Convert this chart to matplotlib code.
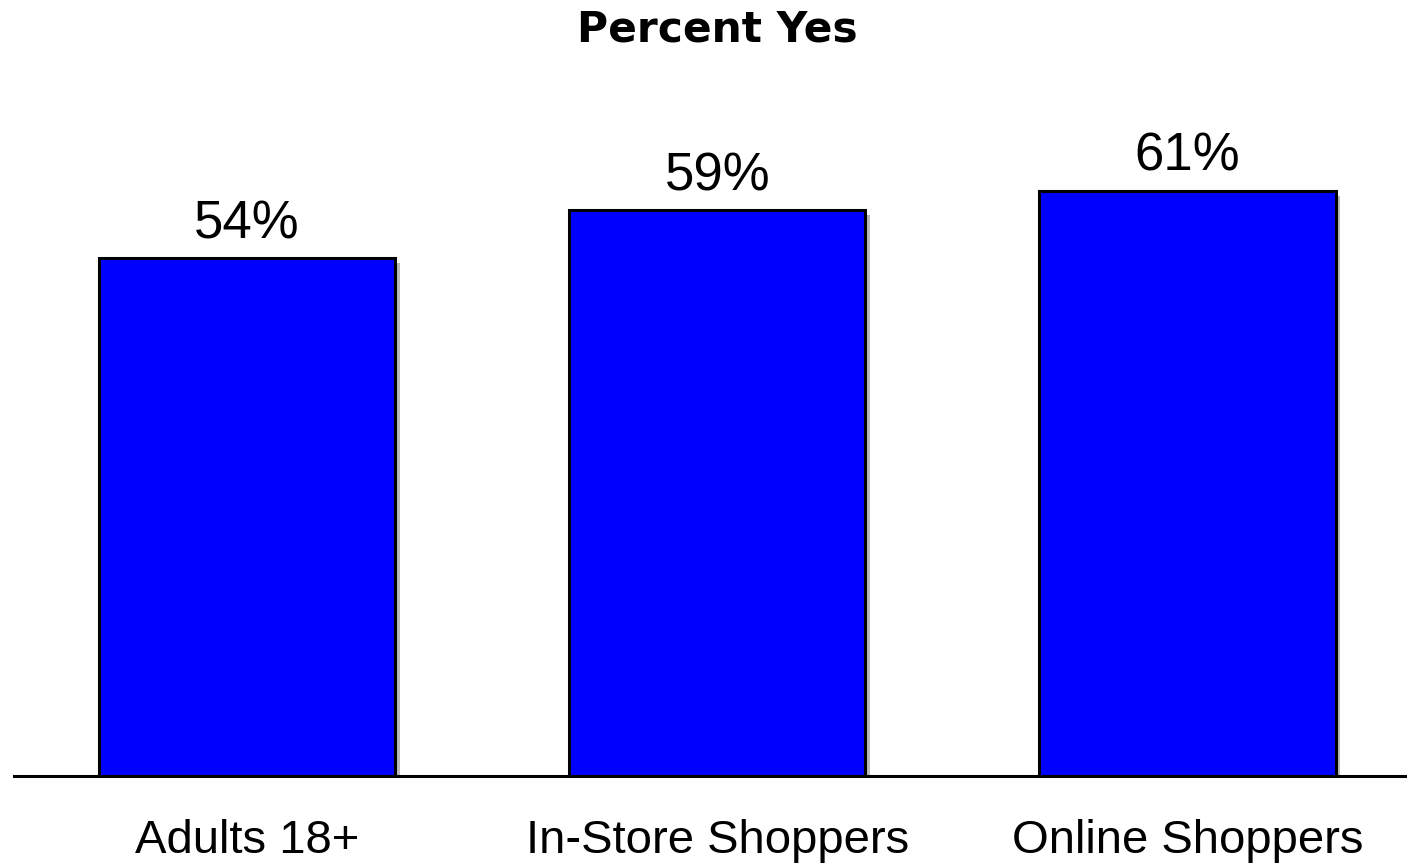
import matplotlib
matplotlib.use('Agg')
import matplotlib.pyplot as plt
import matplotlib.patheffects as pe
import matplotlib.transforms as mtransforms

# data
categories = ['Adults 18+', 'In-Store Shoppers', 'Online Shoppers']
values = [54, 59, 61]
title = 'Percent Yes'

fig = plt.figure(figsize=(14.07, 8.66), dpi=100)
fig.set_facecolor('white')
ax = fig.add_axes([14/1407, 90/866, 1 - 14/1407, 776/866])

xs = list(range(len(categories)))
bars = ax.bar(xs, values, width=0.63, color='#0000ff', edgecolor='black',
              linewidth=2.2, zorder=3)
for b in bars:
    b.set_path_effects([pe.SimplePatchShadow(offset=(3.5, -3.5), shadow_rgbFace='#777777', alpha=0.5),
                        pe.Normal()])

ax.set_xlim(-(247 - 14)/470, 2 + (1407 - 1187.5)/470)
ax.set_ylim(0, 776/9.59)

for spine in ['top', 'right', 'left']:
    ax.spines[spine].set_visible(False)
ax.spines['bottom'].set_linewidth(2.2)
ax.spines['bottom'].set_zorder(4)
ax.set_xticks([])
ax.set_yticks([])

# value labels
for x, v in zip(xs, values):
    ax.annotate('%d%%' % v, (x, v), xytext=(0, 14.5), textcoords='offset points',
                ha='center', va='baseline', fontsize=38, family='Liberation Sans')

# category labels
trans = mtransforms.blended_transform_factory(ax.transData, fig.transFigure)
for x, c in zip(xs, categories):
    ax.text(x, 1 - 853/866, c, transform=trans, ha='center', va='baseline',
            fontsize=34, family='Liberation Sans')

fig.text(717.5/1407, 1 - 29/866, title, ha='center', va='center',
         fontsize=30.5, fontweight='bold', family='DejaVu Sans')

fig.savefig('out.png', dpi=100)
